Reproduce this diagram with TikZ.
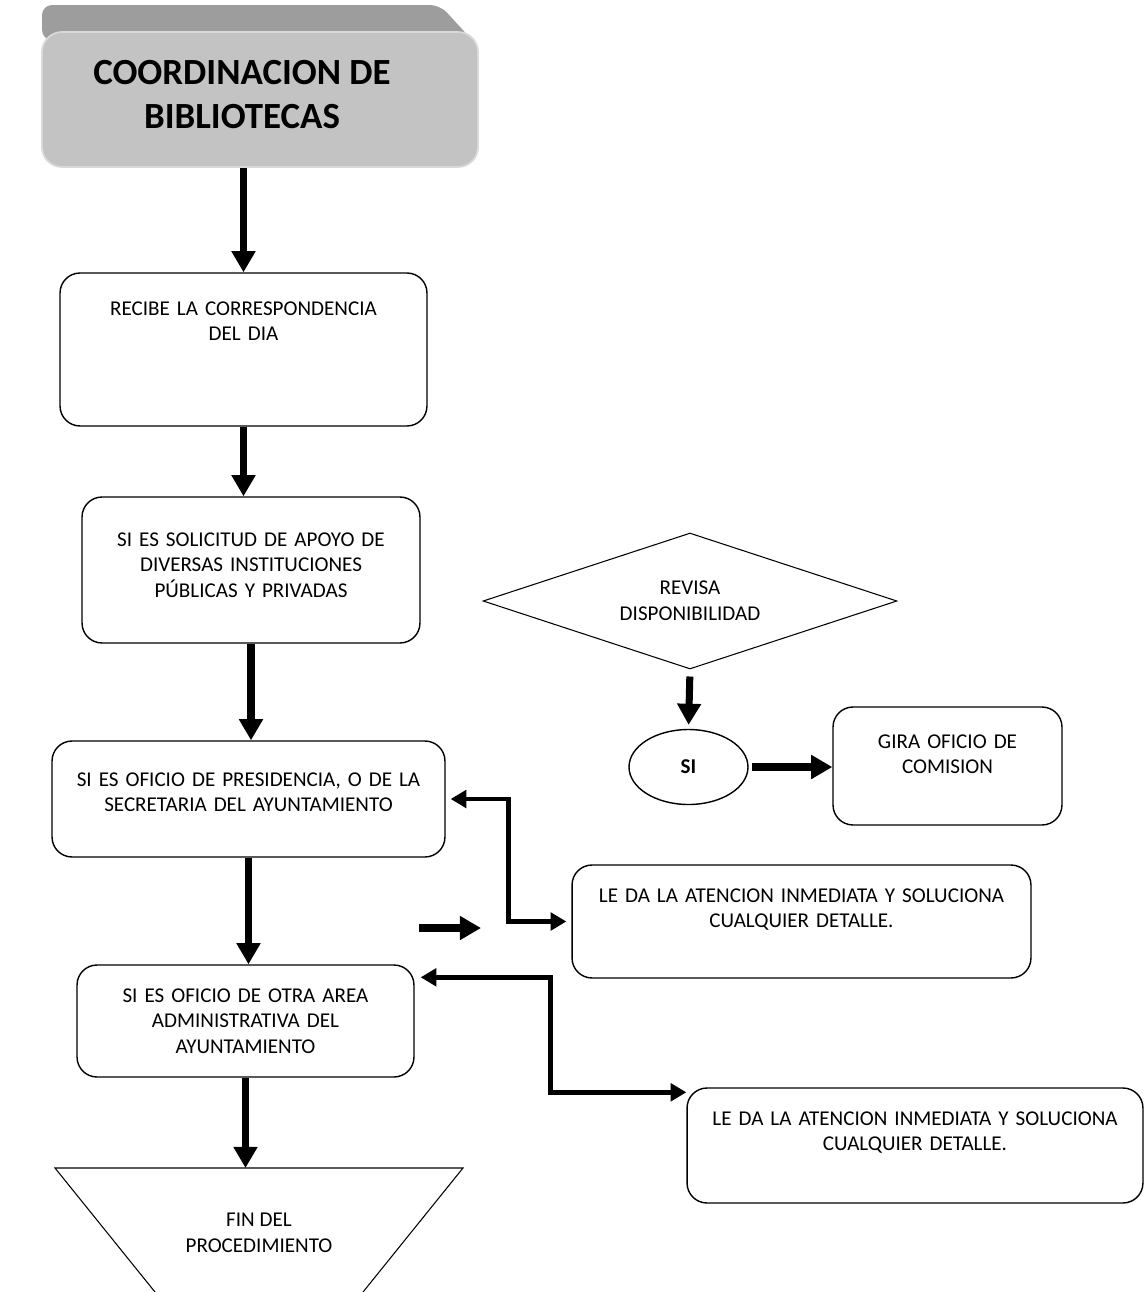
\documentclass[tikz,border=0pt]{standalone}
\usepackage{fontspec}
\setmainfont{Carlito}
\usetikzlibrary{arrows.meta,shapes.geometric,calc}

\begin{document}
\begin{tikzpicture}[x=0.02cm,y=-0.02cm,
  box/.style={draw,line width=0.8pt,rounded corners=0.4cm,align=center,inner sep=0pt,anchor=base,font=\fontsize{12}{14.7}\selectfont},
  txt/.style={align=center,inner sep=0pt,font=\fontsize{12}{14.7}\selectfont},
  flecha/.style={line width=4pt,-{Triangle[width=13pt,length=12pt]}},
  codo/.style={line width=2.6pt,{Triangle[width=10pt,length=9pt]}-{Triangle[width=10pt,length=9pt]}}]
\path[use as bounding box] (0,0) rectangle (1146,1292);
% encabezado
\fill[gray!77,rounded corners=0.2cm] (42,40) -- (42,5) -- (440,5) -- (472,40) -- cycle;
\node[fill=gray!47,draw=gray!30,line width=1pt,rounded corners=0.4cm,minimum width=8.72cm,minimum height=2.7cm,inner sep=0pt,
  label={[font=\bfseries\fontsize{21}{25}\selectfont,align=center,xshift=-0.36cm,yshift=0.1cm]center:COORDINACION DE\\BIBLIOTECAS}] (title) at (260,99.5) {};
% columna izquierda
\node[box,text width=7.34cm,text height=0.84cm,text depth=2.22cm] (recibe) at (243.5,315) {RECIBE LA CORRESPONDENCIA\\DEL DIA};
\node[box,text width=6.76cm,text height=0.98cm,text depth=1.94cm] (apoyo) at (251,546) {SI ES SOLICITUD DE APOYO DE\\DIVERSAS INSTITUCIONES\\PÚBLICAS Y PRIVADAS};
\node[box,text width=7.86cm,text height=0.9cm,text depth=1.42cm] (presid) at (248.5,786) {SI ES OFICIO DE PRESIDENCIA, O DE LA\\SECRETARIA DEL AYUNTAMIENTO};
\node[box,text width=6.74cm,text height=0.74cm,text depth=1.5cm] (otra) at (245.5,1002) {SI ES OFICIO DE OTRA AREA\\ADMINISTRATIVA DEL\\AYUNTAMIENTO};
\draw[line width=0.6pt] (155,1292) -- (55,1168) -- (463,1168) -- (363,1292);
\coordinate (finTop) at (259,1168);
\node[txt] (fin) at (259,1233) {FIN DEL\\PROCEDIMIENTO};
% columna derecha
\node[draw,diamond,aspect=3,line width=0.6pt,minimum width=8.28cm,minimum height=2.72cm,inner sep=0pt,txt] (revisa) at (690,601) {REVISA\\DISPONIBILIDAD};
\node[draw,ellipse,line width=0.8pt,minimum width=2.38cm,minimum height=1.5cm,inner sep=0pt,font=\bfseries\fontsize{12}{14.7}\selectfont] (si) at (688.5,767) {SI};
\node[box,text width=4.58cm,text height=0.82cm,text depth=1.54cm] (gira) at (947.5,748) {GIRA OFICIO DE\\COMISION};
\node[box,text width=9.18cm,text height=0.74cm,text depth=1.52cm] (atencion) at (801.5,902) {LE DA LA ATENCION INMEDIATA Y SOLUCIONA\\CUALQUIER DETALLE.};
\node[box,text width=9.12cm,text height=0.74cm,text depth=1.56cm] (atencionB) at (915,1125) {LE DA LA ATENCION INMEDIATA Y SOLUCIONA\\CUALQUIER DETALLE.};
% flechas
\draw[flecha] (title.south -| recibe.north) -- (recibe.north);
\draw[flecha] (recibe.south) -- (recibe.south |- apoyo.north);
\draw[flecha] (apoyo.south) -- (apoyo.south |- presid.north);
\draw[flecha] (presid.south) -- (presid.south |- otra.north);
\draw[flecha] (otra.south) -- (otra.south |- finTop);
\draw[flecha,shorten <=0.14cm,shorten >=0.08cm] (revisa.south) -- (si.north);
\draw[flecha,shorten <=0.06cm] (si.east) -- (si.east -| gira.west);
\coordinate (sueltoA) at (419,928);
\coordinate (sueltoB) at (481,928);
\draw[flecha] (sueltoA) -- (sueltoB);
\draw[codo,shorten <=0.1cm,shorten >=0.1cm] (presid.east) -| ($(presid.east)!.5!(atencion.west)$) |- (atencion.west);
\coordinate (otraE) at ($(otra.north east)+(0,13)$);
\coordinate (atencionW) at ($(atencionB.north west)+(0,5)$);
\draw[codo,shorten <=0.12cm] (otraE) -| ($(otraE)!.5!(atencionW)$) |- (atencionW);
\end{tikzpicture}
\end{document}
